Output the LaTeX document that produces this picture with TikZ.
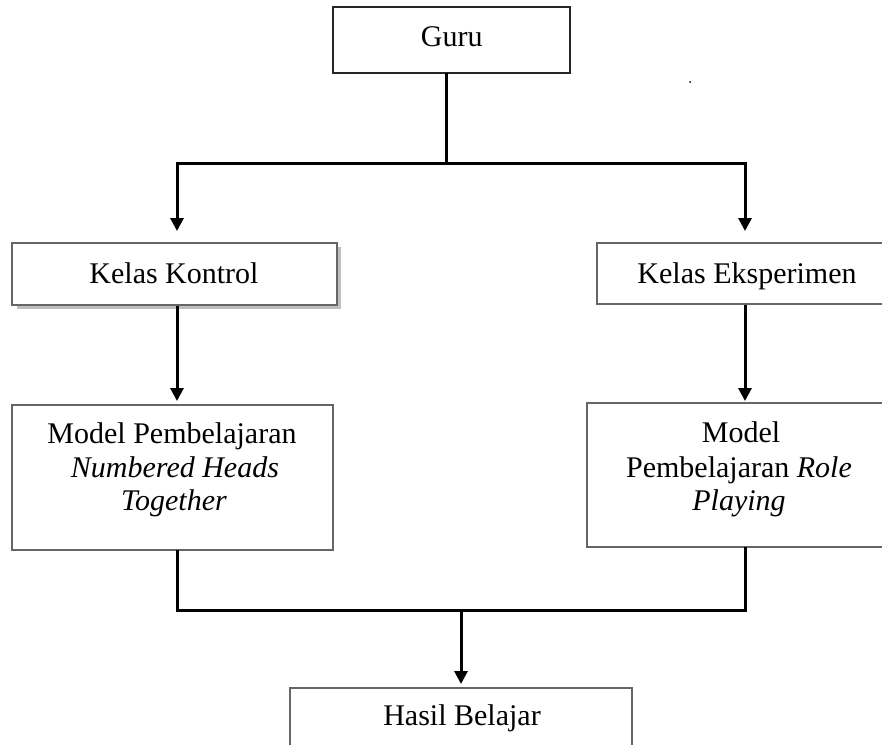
\documentclass[tikz,border=0pt]{standalone}
\usepackage{fontspec}
\setmainfont{Liberation Serif}
\usetikzlibrary{arrows.meta}
\begin{document}
\begin{tikzpicture}[x=1pt,y=-1pt,
  every node/.style={font=\fontsize{30}{35}\selectfont},
  box/.style={draw=black!60, line width=2pt, fill=white, inner sep=0pt},
  conn/.style={line width=3pt, line cap=rect, line join=miter},
  arr/.style={line width=3pt, -{Triangle[width=13pt,length=13pt]}},
  txt/.style={anchor=base, inner sep=0pt}]
\useasboundingbox (0,0) rectangle (882,744);
\clip (0,0) rectangle (882,744);
% boxes
\node[box, draw=black!85, minimum width=237pt, minimum height=66pt] (guru) at (451.5,40) {};
\node[txt] at (451.7,46) {Guru};
\fill[black!25] (16.5,247) rectangle (341,309);
\node[box, minimum width=325pt, minimum height=62pt] (kk) at (174.5,274) {};
\node[txt] at (174,283) {Kelas Kontrol};
\node[box, minimum width=296pt, minimum height=61pt] (ke) at (745,273.5) {};
\node[txt] at (747,283) {Kelas Eksperimen};
\node[box, minimum width=321pt, minimum height=145pt] (nht) at (172.5,477.5) {};
\node[txt] at (172,443) {Model Pembelajaran};
\node[txt] at (175,477) {\textit{Numbered Heads}};
\node[txt] at (174,510) {\textit{Together}};
\node[box, minimum width=308pt, minimum height=144pt] (rp) at (741,475) {};
\node[txt] at (741,442) {Model};
\node[txt] at (739,477) {Pembelajaran \textit{Role}};
\node[txt] at (739,510) {\textit{Playing}};
\node[box, minimum width=342pt, minimum height=60pt] (hb) at (461,718) {};
\node[txt] at (462,725) {Hasil Belajar};
% junctions
\coordinate (jt) at (446,163);
\coordinate (jl) at (177,163);
\coordinate (jr) at (745,163);
\coordinate (jb) at (461,610);
% connectors
\draw[conn] (jt |- guru.south) -- (jt);
\draw[arr, shorten >=11pt] (jt) -- (jl) -- (jl |- kk.north);
\draw[arr, shorten >=11pt] (jt) -- (jr) -- (jr |- ke.north);
\draw[arr, shorten >=3pt] (jl |- kk.south) -- (jl |- nht.north);
\draw[arr, shorten >=1pt] (jr |- ke.south) -- (jr |- rp.north);
\draw[conn] (jl |- nht.south) -- (jl |- jb) -- (jr |- jb) -- (jr |- rp.south);
\draw[arr, shorten >=3pt] (jb) -- (jb |- hb.north);
\fill (690,82) circle (1pt);
\end{tikzpicture}
\end{document}
